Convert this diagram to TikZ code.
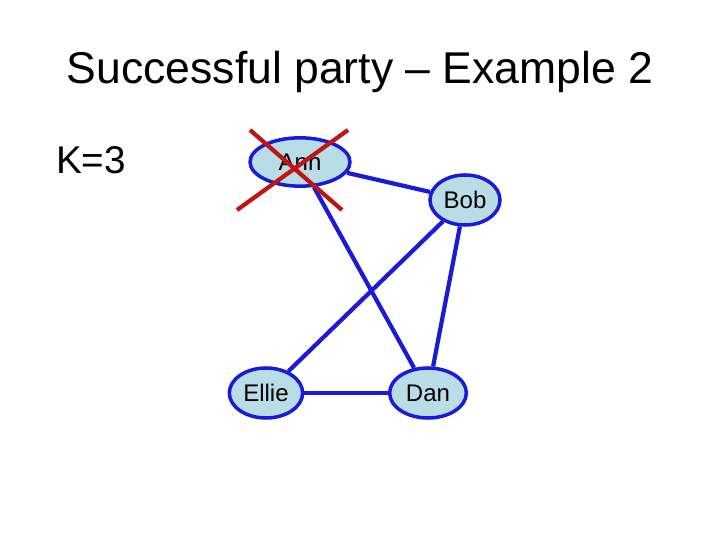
\documentclass[tikz,border=0pt]{standalone}
\usepackage{fontspec}
\setmainfont{Liberation Sans}
\usetikzlibrary{shapes.geometric}
\definecolor{nodefill}{RGB}{184,221,230}
\definecolor{edgeblue}{RGB}{26,26,216}
\definecolor{crossred}{RGB}{192,20,20}
\tikzset{
  guest/.style={ellipse, draw=edgeblue, fill=nodefill, line width=3pt, inner sep=0pt, font=\fontsize{20.5}{24}\selectfont},
  link/.style={edgeblue, line width=3.6pt}
}
\begin{document}
\begin{tikzpicture}[x=0.03cm, y=-0.03cm]
    \useasboundingbox (0,0) rectangle (720,540);
    \node (title) at (360,72) {\fontsize{38}{44}\selectfont Successful party -- Example 2};
    \node (k) at (91,160) {\fontsize{33}{38}\selectfont K=3};

    \node[guest, minimum width=3.0cm, minimum height=1.45cm] (ann) at (300,162) {Ann};
    \node[guest, minimum width=2.1cm, minimum height=1.5cm] (bob) at (465,200) {Bob};
    \node[guest, minimum width=2.2cm, minimum height=1.5cm] (ellie) at (266,393) {Ellie};
    \node[guest, minimum width=2.3cm, minimum height=1.5cm] (dan) at (428,393) {Dan};

    \draw[link] (ann) -- (bob);
    \draw[link] (ann) -- (dan);
    \draw[link] (bob) -- (ellie);
    \draw[link] (bob) -- (dan);
    \draw[link] (ellie) -- (dan);

    \coordinate (c1) at (237,210);
    \coordinate (c2) at (348,130);
    \coordinate (c3) at (250,130);
    \coordinate (c4) at (342,210);
    \draw[crossred, line width=3.6pt] (c1) -- (c2);
    \draw[crossred, line width=3.6pt] (c3) -- (c4);
\end{tikzpicture}
\end{document}
